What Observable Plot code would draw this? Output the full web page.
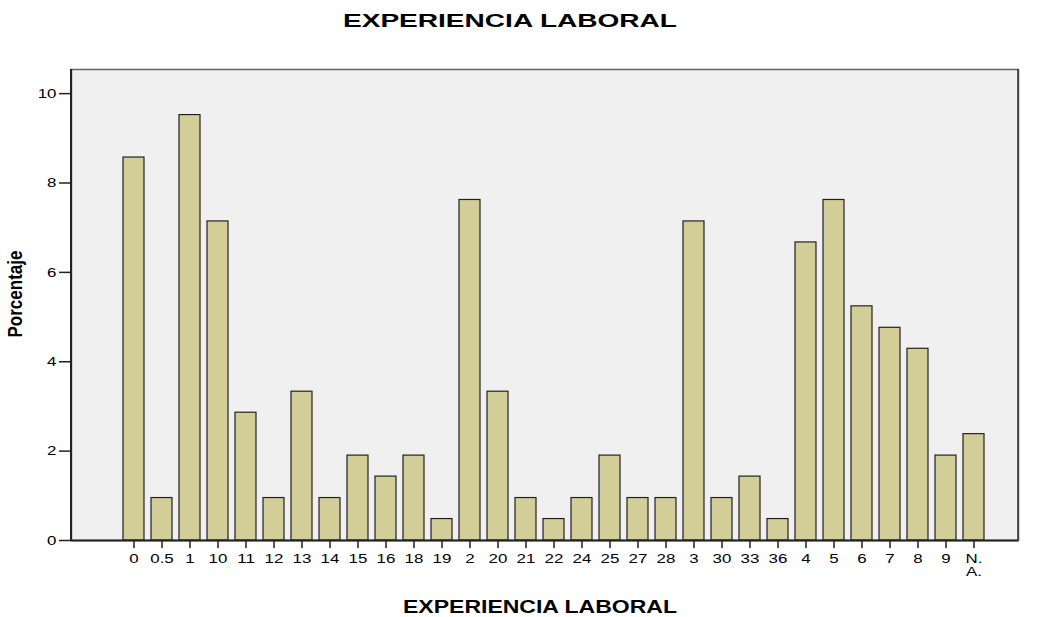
<!DOCTYPE html>
<html><head><meta charset="utf-8">
<script src="https://cdn.jsdelivr.net/npm/d3@7"></script>
<script src="https://cdn.jsdelivr.net/npm/@observablehq/plot@0.6"></script>
<style>body{margin:0;background:#fff;font-family:"Liberation Sans",Arial,sans-serif}</style>
</head><body><div id="chart"></div>
<script>
const categories = ["0","0.5","1","10","11","12","13","14","15","16","18","19","2","20","21","22","24","25","27","28","3","30","33","36","4","5","6","7","8","9","N.\nA."];
const percentages = [8.57,0.95,9.52,7.14,2.86,0.95,3.33,0.95,1.90,1.43,1.90,0.48,7.62,3.33,0.95,0.48,0.95,1.90,0.95,0.95,7.14,0.95,1.43,0.48,6.67,7.62,5.24,4.76,4.29,1.90,2.38];
const yTicks = [0,2,4,6,8,10];
const title = "EXPERIENCIA LABORAL";
const xLabel = "EXPERIENCIA LABORAL";
const yLabel = "Porcentaje";

const data = categories.map((c,i)=>({cat:c, pct:percentages[i]}));
const W=1039,H=617;
const FONT='"Liberation Sans",Arial,sans-serif';
const plot = Plot.plot({
  width:W, height:H,
  marginLeft:71, marginRight:21, marginTop:69, marginBottom:77,
  style:{fontFamily:FONT, fontSize:"13px", color:"#000", background:"#fff"},
  x:{domain:categories, paddingInner:0.25, paddingOuter:0, insetLeft:50.5, insetRight:32.5, label:null},
  y:{domain:[0,10.54], label:null},
  marks:[
    Plot.frame({fill:"#f0f0f0", stroke:"#666", strokeWidth:1.5}),
    Plot.barY(data,{x:"cat", y:"pct", fill:"#d3cd97", stroke:"#222", strokeWidth:1.2}),
    Plot.axisY({ticks:yTicks, tickSize:12, tickPadding:3, stroke:"#222", strokeWidth:1.5, fontSize:13, label:null}),
    Plot.axisX({tickSize:8, tickPadding:5, stroke:"#222", strokeWidth:1.5, fontSize:13, label:null, lineHeight:1}),
    Plot.ruleY([0],{stroke:"#222", strokeWidth:2})
  ]
});
const svg = d3.select(plot);
// widen tick labels horizontally (reference uses a stretched font)
svg.selectAll('g[aria-label="y-axis tick label"] text, g[aria-label="x-axis tick label"] text').each(function(){
  const t=d3.select(this); const tr=t.attr("transform")||"";
  t.attr("transform", tr+" scale(1.3,1)");
});
svg.append("line").attr("x1",71).attr("x2",71).attr("y1",69).attr("y2",541).attr("stroke","#222").attr("stroke-width",2);
svg.append("line").attr("x1",1018).attr("x2",1018).attr("y1",69).attr("y2",541).attr("stroke","#333").attr("stroke-width",1.5);
svg.append("text").attr("x",510).attr("y",27).attr("text-anchor","middle")
  .attr("font-weight","bold").attr("font-size",19).attr("font-family",FONT)
  .attr("textLength",334).attr("lengthAdjust","spacingAndGlyphs").text(title);
svg.append("text").attr("x",540).attr("y",613).attr("text-anchor","middle")
  .attr("font-weight","bold").attr("font-size",19).attr("font-family",FONT)
  .attr("textLength",274).attr("lengthAdjust","spacingAndGlyphs").text(xLabel);
svg.append("text").attr("transform","translate(22,294) rotate(-90)").attr("text-anchor","middle")
  .attr("font-weight","bold").attr("font-size",20).attr("font-family",FONT)
  .attr("textLength",87).attr("lengthAdjust","spacingAndGlyphs").text(yLabel);
document.getElementById("chart").appendChild(plot);
</script></body></html>
